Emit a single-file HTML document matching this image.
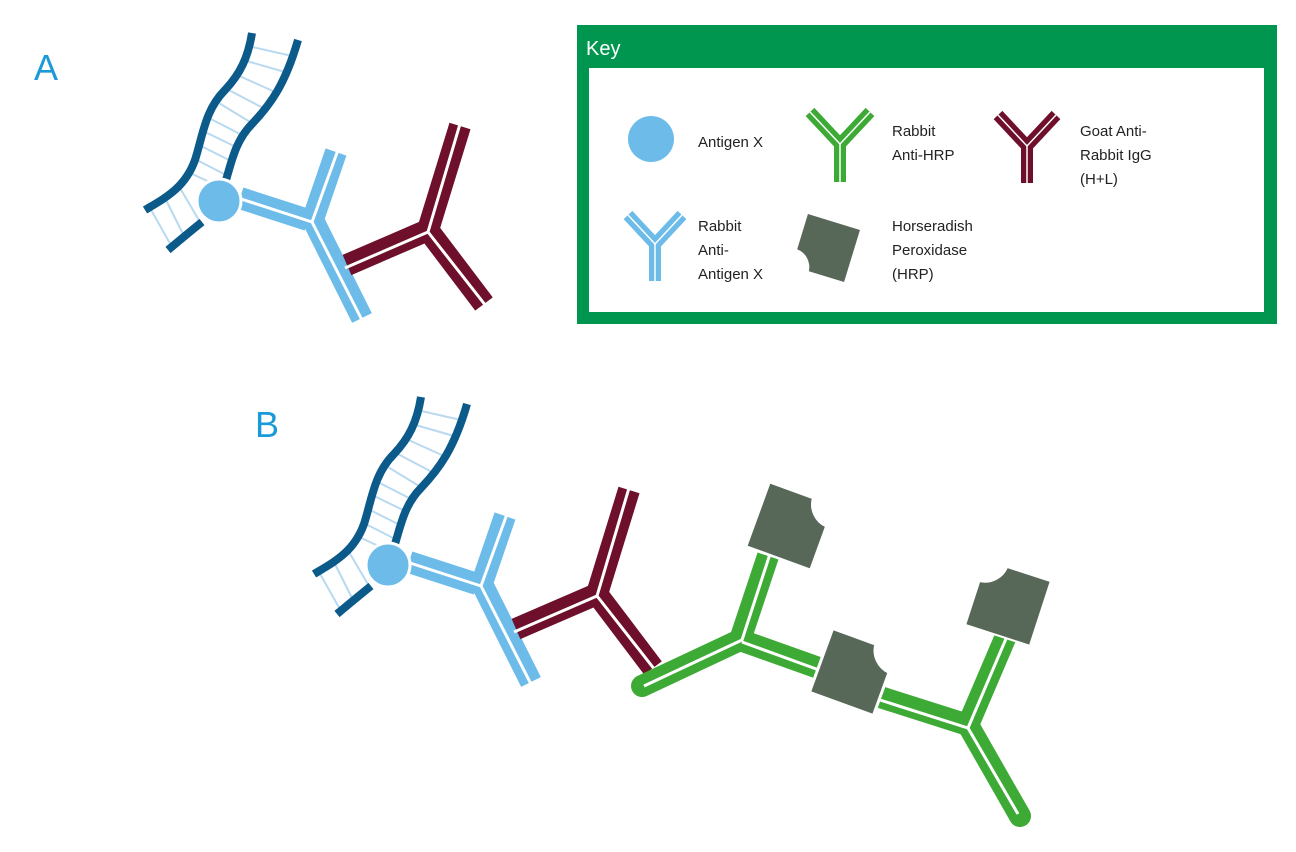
<!DOCTYPE html>
<html><head><meta charset="utf-8"><style>
html,body{margin:0;padding:0;background:#fff;}
svg{display:block;font-family:"Liberation Sans","DejaVu Sans",sans-serif;}
</style></head><body>
<svg width="1296" height="852" viewBox="0 0 1296 852" xmlns="http://www.w3.org/2000/svg">
<defs>
<g id="dna">
  <g stroke="#b9d9f0" stroke-width="2">
    <line x1="150" y1="208" x2="172" y2="247"/>
    <line x1="165" y1="198" x2="185" y2="238"/>
    <line x1="180" y1="188" x2="200" y2="222"/>
    <line x1="188" y1="172" x2="218" y2="186"/>
    <line x1="193" y1="158" x2="224" y2="174"/>
    <line x1="197" y1="144" x2="229" y2="160"/>
    <line x1="201" y1="130" x2="234" y2="146"/>
    <line x1="205" y1="116" x2="240" y2="134"/>
    <line x1="214" y1="100" x2="250" y2="122"/>
    <line x1="225" y1="88" x2="263" y2="108"/>
    <line x1="235" y1="74" x2="275" y2="92"/>
    <line x1="243" y1="60" x2="285" y2="72"/>
    <line x1="248" y1="46" x2="292" y2="56"/>
  </g>
  <path d="M145,210 C165,198 185,188 195,160 C203,135 205,110 225,90 C240,74 248,58 252,33" fill="none" stroke="#0b5a8a" stroke-width="8"/>
  <path d="M168,250 C180,240 192,230 202,222" fill="none" stroke="#0b5a8a" stroke-width="8"/>
  <path d="M226,180 C232,160 236,140 252,124 C270,105 285,85 298,40" fill="none" stroke="#0b5a8a" stroke-width="8"/>
</g>
<g id="blueab">
  <g stroke="#6cbbe9" stroke-width="22">
    <line x1="312" y1="218" x2="362" y2="318"/>
    <line x1="308" y1="220" x2="240" y2="198"/>
    <line x1="312" y1="222" x2="336" y2="152"/>
  </g>
  <g stroke="#fff" stroke-width="3">
    <line x1="312" y1="222" x2="364" y2="324"/>
    <line x1="312" y1="222" x2="238" y2="198"/>
    <line x1="312" y1="222" x2="338" y2="150"/>
  </g>
  <circle cx="219" cy="201" r="22" fill="#6cbbe9" stroke="#fff" stroke-width="3"/>
</g>
<g id="maroonab">
  <g stroke="#6e0f2b" stroke-width="22">
    <line x1="428" y1="230" x2="460" y2="126"/>
    <line x1="428" y1="230" x2="484" y2="304"/>
    <line x1="428" y1="230" x2="347" y2="265"/>
  </g>
  <g stroke="#fff" stroke-width="3">
    <line x1="428" y1="232" x2="460" y2="124"/>
    <line x1="428" y1="232" x2="486" y2="306"/>
    <line x1="428" y1="232" x2="345" y2="268"/>
  </g>
</g>
<path id="hrp" d="M-34,-34 L12,-34 A24 24 0 0 0 34,-12 L34,34 L-34,34 Z" fill="#586858"/>
</defs>

<text x="34" y="80" font-size="36" fill="#1a9ad8">A</text>
<text x="255" y="437" font-size="36" fill="#1a9ad8">B</text>

<use href="#dna"/>
<use href="#blueab"/>
<use href="#maroonab"/>

<g transform="translate(169,364)">
<use href="#dna"/>
<use href="#blueab"/>
<use href="#maroonab"/>
</g>

<g stroke="#3daa35" stroke-width="22">
  <line x1="740" y1="640" x2="642" y2="686" stroke-linecap="round"/>
  <line x1="740" y1="640" x2="768" y2="556"/>
  <line x1="740" y1="640" x2="830" y2="672"/>
  <line x1="880" y1="697" x2="968" y2="725"/>
  <line x1="968" y1="725" x2="1006" y2="636"/>
  <line x1="968" y1="725" x2="1020" y2="816" stroke-linecap="round"/>
</g>
<g stroke="#fff" stroke-width="3" fill="none">
  <polyline points="644,686 742,640 770,554"/>
  <line x1="742" y1="642" x2="830" y2="674"/>
  <polyline points="880,700 968,728 1008,634"/>
  <polyline points="968,728 1018,814"/>
</g>
<use href="#hrp" transform="translate(790,526) rotate(20)" stroke="#fff" stroke-width="2"/>
<use href="#hrp" transform="translate(853,672) rotate(20)" stroke="#fff" stroke-width="3"/>
<use href="#hrp" transform="translate(1008,603) rotate(18) scale(-1,1)" stroke="#fff" stroke-width="2"/>

<rect x="577" y="25" width="700" height="299" fill="#009650"/>
<rect x="589" y="68" width="675" height="244" fill="#fff"/>
<text x="586" y="55" font-size="20" fill="#fff">Key</text>

<circle cx="651" cy="139" r="23" fill="#6cbbe9"/>
<text x="698" y="147" font-size="15" fill="#222">Antigen X</text>

<g stroke="#3daa35" stroke-width="12">
  <line x1="840" y1="182" x2="840" y2="140"/>
  <line x1="840" y1="144" x2="810" y2="112"/>
  <line x1="840" y1="144" x2="870" y2="112"/>
</g>
<g stroke="#fff" stroke-width="1.5" fill="none"><polyline points="840,182 840,144 810,112"/><line x1="840" y1="144" x2="870" y2="112"/></g>
<text x="892" y="136" font-size="15" fill="#222">Rabbit</text>
<text x="892" y="160" font-size="15" fill="#222">Anti-HRP</text>

<g stroke="#6e0f2b" stroke-width="12">
  <line x1="1027" y1="183" x2="1027" y2="142"/>
  <line x1="1027" y1="146" x2="998" y2="115"/>
  <line x1="1027" y1="146" x2="1056" y2="115"/>
</g>
<g stroke="#fff" stroke-width="1.5" fill="none"><polyline points="1027,183 1027,146 998,115"/><line x1="1027" y1="146" x2="1056" y2="115"/></g>
<text x="1080" y="136" font-size="15" fill="#222">Goat Anti-</text>
<text x="1080" y="160" font-size="15" fill="#222">Rabbit IgG</text>
<text x="1080" y="184" font-size="15" fill="#222">(H+L)</text>

<g stroke="#6cbbe9" stroke-width="12">
  <line x1="655" y1="281" x2="655" y2="240"/>
  <line x1="655" y1="244" x2="628" y2="215"/>
  <line x1="655" y1="244" x2="682" y2="215"/>
</g>
<g stroke="#fff" stroke-width="1.5" fill="none"><polyline points="655,281 655,244 628,215"/><line x1="655" y1="244" x2="682" y2="215"/></g>
<text x="698" y="231" font-size="15" fill="#222">Rabbit</text>
<text x="698" y="255" font-size="15" fill="#222">Anti-</text>
<text x="698" y="279" font-size="15" fill="#222">Antigen X</text>

<use href="#hrp" transform="translate(826,248) rotate(17) scale(-0.8,-0.8)"/>
<text x="892" y="231" font-size="15" fill="#222">Horseradish</text>
<text x="892" y="255" font-size="15" fill="#222">Peroxidase</text>
<text x="892" y="279" font-size="15" fill="#222">(HRP)</text>
</svg>
</body></html>
